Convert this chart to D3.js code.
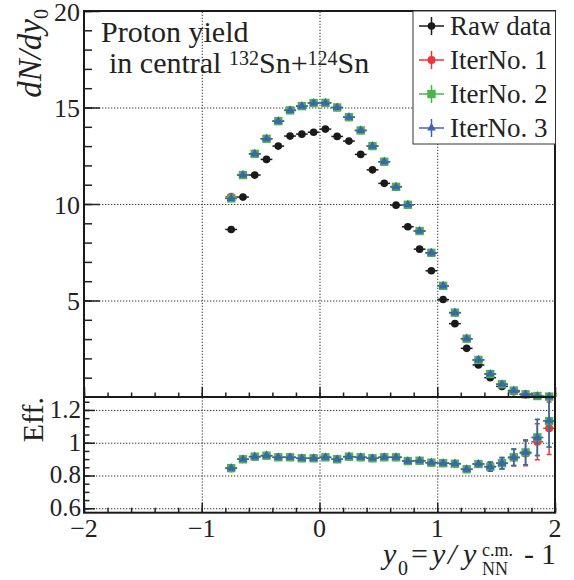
<!DOCTYPE html>
<html>
<head>
<meta charset="utf-8">
<script src="https://cdn.jsdelivr.net/npm/d3@7"></script>
<style>
  body { margin: 0; background: #fff; }
  svg text { fill: #222; }
</style>
</head>
<body>
<script>
// bin centres of y0 (reduced rapidity)
var bins = [-0.75, -0.65, -0.55, -0.45, -0.35, -0.25, -0.15, -0.05, 0.05, 0.15,
            0.25, 0.35, 0.45, 0.55, 0.65, 0.75, 0.85, 0.95, 1.05, 1.15,
            1.25, 1.35, 1.45, 1.55, 1.65, 1.75, 1.85, 1.95];
var xErr = 0.05;

// dN/dy0
var rawData = [8.68, 10.36, 11.5, 12.31, 13.0, 13.52, 13.62, 13.72, 13.88, 13.5,
               13.26, 12.57, 11.77, 11.07, 9.94, 8.82, 7.66, 6.54, 5.05, 3.8,
               2.52, 1.66, 1.0, 0.55, 0.27, 0.12, 0.05, 0.02];
var iter1 = [10.38, 11.52, 12.6, 13.38, 14.3, 14.86, 15.08, 15.24, 15.24, 15.0,
             14.5, 13.81, 13.0, 12.19, 10.9, 9.96, 8.6, 7.47, 5.76, 4.37,
             3.02, 1.92, 1.19, 0.66, 0.33, 0.14, 0.05, 0.02];
var iter2 = [10.29, 11.5, 12.6, 13.38, 14.29, 14.85, 15.07, 15.23, 15.24, 15.0,
             14.5, 13.81, 13.0, 12.19, 10.89, 9.96, 8.6, 7.47, 5.76, 4.37,
             3.02, 1.92, 1.19, 0.66, 0.33, 0.14, 0.05, 0.02];
var iter3 = [10.29, 11.5, 12.6, 13.38, 14.29, 14.85, 15.07, 15.23, 15.24, 15.0,
             14.5, 13.81, 13.0, 12.19, 10.89, 9.96, 8.6, 7.47, 5.76, 4.37,
             3.02, 1.92, 1.19, 0.66, 0.33, 0.14, 0.05, 0.02];

// efficiency (raw / unfolded)
var eff1 = [0.843, 0.899, 0.915, 0.921, 0.911, 0.911, 0.905, 0.905, 0.911, 0.899,
            0.915, 0.911, 0.905, 0.911, 0.911, 0.888, 0.89, 0.878, 0.875, 0.872,
            0.838, 0.87, 0.854, 0.874, 0.908, 0.935, 1.006, 1.088];
var eff2 = [0.845, 0.899, 0.915, 0.921, 0.911, 0.911, 0.905, 0.905, 0.911, 0.899,
            0.915, 0.911, 0.905, 0.911, 0.911, 0.888, 0.89, 0.878, 0.875, 0.872,
            0.838, 0.87, 0.854, 0.875, 0.911, 0.941, 1.033, 1.132];
var eff3 = [0.845, 0.899, 0.915, 0.921, 0.911, 0.911, 0.905, 0.905, 0.911, 0.899,
            0.915, 0.911, 0.905, 0.911, 0.911, 0.888, 0.89, 0.878, 0.875, 0.872,
            0.838, 0.87, 0.854, 0.875, 0.911, 0.941, 1.031, 1.134];
var effErr = [0.008, 0.008, 0.008, 0.008, 0.008, 0.008, 0.008, 0.008, 0.008, 0.008,
              0.008, 0.008, 0.008, 0.008, 0.008, 0.008, 0.01, 0.01, 0.01, 0.012,
              0.015, 0.02, 0.028, 0.035, 0.05, 0.075, 0.11, 0.16];

var legendLabels = ["Raw data", "IterNo. 1", "IterNo. 2", "IterNo. 3"];
var xTicks = [-2, -1, 0, 1, 2];
var yTopTicks = [5, 10, 15, 20];
var yBotTicks = [0.6, 0.8, 1, 1.2];

var colors = { raw: "#1a1a1a", it1: "#ee3636", it2: "#48b548", it3: "#3c64b2" };
var serif = '"Liberation Serif", "Times New Roman", serif';

var svg = d3.select('body').append('svg')
  .attr('width', 574).attr('height', 580)
  .attr('font-family', serif);

var x = d3.scaleLinear().domain([-2, 2]).range([84, 555]);
var yTop = d3.scaleLinear().domain([0, 20]).range([397, 11]);
var yBot = d3.scaleLinear().domain([0.573, 1.279]).range([512.7, 397]);

function grid(g) {
  g.selectAll('line').attr('stroke', '#333').attr('stroke-width', 1)
    .attr('stroke-dasharray', '1.3,1.7');
  g.select('.domain').remove();
  g.selectAll('text').remove();
}

// grids
svg.append('g').attr('transform', 'translate(0,397)')
  .call(d3.axisBottom(x).tickValues([-1, 0, 1]).tickSize(-386)).call(grid);
svg.append('g').attr('transform', 'translate(84,0)')
  .call(d3.axisLeft(yTop).tickValues([5, 10, 15]).tickSize(-471)).call(grid);
svg.append('g').attr('transform', 'translate(0,512.7)')
  .call(d3.axisBottom(x).tickValues([-1, 0, 1]).tickSize(-115.7)).call(grid);
svg.append('g').attr('transform', 'translate(84,0)')
  .call(d3.axisLeft(yBot).tickValues(yBotTicks).tickSize(-471)).call(grid);

// ticks (inward)
function ticks(g) {
  g.select('.domain').remove();
  g.selectAll('line').attr('stroke', '#222').attr('stroke-width', 1.5);
  g.selectAll('text').remove();
}
var xMinor = d3.range(-20, 21, 2).map(function(d){ return d / 10; });
svg.append('g').attr('transform', 'translate(0,397)')
  .call(d3.axisBottom(x).tickValues(xMinor).tickSize(-4.5)).call(ticks);
svg.append('g').attr('transform', 'translate(0,397)')
  .call(d3.axisBottom(x).tickValues(xTicks).tickSize(-10)).call(ticks);
svg.append('g').attr('transform', 'translate(84,0)')
  .call(d3.axisLeft(yTop).tickValues(d3.range(1, 21)).tickSize(-8)).call(ticks);
svg.append('g').attr('transform', 'translate(84,0)')
  .call(d3.axisLeft(yTop).tickValues(yTopTicks).tickSize(-16)).call(ticks);
svg.append('g').attr('transform', 'translate(0,512.7)')
  .call(d3.axisBottom(x).tickValues(xMinor).tickSize(-5)).call(ticks);
svg.append('g').attr('transform', 'translate(0,512.7)')
  .call(d3.axisBottom(x).tickValues(xTicks).tickSize(-10)).call(ticks);
svg.append('g').attr('transform', 'translate(84,0)')
  .call(d3.axisLeft(yBot).tickValues(d3.range(12, 26).map(function(d){ return d / 20; })).tickSize(-5.5)).call(ticks);
svg.append('g').attr('transform', 'translate(84,0)')
  .call(d3.axisLeft(yBot).tickValues(yBotTicks).tickSize(-11)).call(ticks);

// tick labels
svg.append('g').selectAll('text').data(yTopTicks).enter().append('text')
  .attr('x', 80).attr('y', function(d){ return yTop(d) + 9.5; })
  .attr('text-anchor', 'end').attr('font-size', 26)
  .text(function(d){ return d; });
svg.append('g').selectAll('text').data(yBotTicks).enter().append('text')
  .attr('x', 81).attr('y', function(d){ return yBot(d) + 8; })
  .attr('text-anchor', 'end').attr('font-size', 25)
  .text(function(d){ return String(+d.toFixed(1)); });
svg.append('g').selectAll('text').data(xTicks).enter().append('text')
  .attr('x', function(d){ return x(d); }).attr('y', 537)
  .attr('text-anchor', 'middle').attr('font-size', 26)
  .text(function(d){ return d3.format('d')(d); });

// draw a series with error bars and markers
function series(yScale, vals, errs, color, shape) {
  var g = svg.append('g');
  var pts = bins.map(function(b, i){ return { x: b, y: vals[i], e: errs ? errs[i] : 0 }; });
  g.selectAll('line.h').data(pts).enter().append('line')
    .attr('x1', function(d){ return x(d.x - xErr); })
    .attr('x2', function(d){ return x(d.x + xErr); })
    .attr('y1', function(d){ return yScale(d.y); })
    .attr('y2', function(d){ return yScale(d.y); })
    .attr('stroke', color).attr('stroke-width', 1.5);
  var withErr = pts.filter(function(d){ return d.e > 0; });
  g.selectAll('line.v').data(withErr).enter().append('line')
    .attr('x1', function(d){ return x(d.x); })
    .attr('x2', function(d){ return x(d.x); })
    .attr('y1', function(d){ return Math.max(398, yScale(d.y - d.e)); })
    .attr('y2', function(d){ return Math.max(398, yScale(d.y + d.e)); })
    .attr('stroke', color).attr('stroke-width', 1.5);
  // small caps at the ends of the vertical error bars
  g.selectAll('path.cap').data(withErr.filter(function(d){ return d.e > 0.02; })).enter().append('path')
    .attr('d', function(d){
      var cx = x(d.x), lo = yScale(d.y - d.e), hi = Math.max(398, yScale(d.y + d.e));
      return 'M' + (cx - 2.5) + ',' + lo + 'H' + (cx + 2.5) + 'M' + (cx - 2.5) + ',' + hi + 'H' + (cx + 2.5);
    })
    .attr('stroke', color).attr('stroke-width', 1.5).attr('fill', 'none');
  g.selectAll('path.m').data(pts).enter().append('path')
    .attr('transform', function(d){ return 'translate(' + x(d.x) + ',' + yScale(d.y) + ')'; })
    .attr('d', d3.symbol().type(shape.type).size(shape.size))
    .attr('fill', color);
}

var circle = { type: d3.symbolCircle, size: 46 };
var circleRed = { type: d3.symbolCircle, size: 50 };
var square = { type: d3.symbolSquare, size: 70 };
var tri = { type: d3.symbolTriangle, size: 34 };

series(yTop, rawData, null, colors.raw, circle);
series(yTop, iter1, null, colors.it1, circleRed);
series(yTop, iter2, null, colors.it2, square);
series(yTop, iter3, null, colors.it3, tri);

series(yBot, eff1, effErr, colors.it1, circleRed);
series(yBot, eff2, effErr, colors.it2, square);
series(yBot, eff3, effErr, colors.it3, tri);

// frames
svg.append('rect').attr('x', 84).attr('y', 11).attr('width', 471).attr('height', 386)
  .attr('fill', 'none').attr('stroke', '#1a1a1a').attr('stroke-width', 2);
svg.append('rect').attr('x', 84).attr('y', 397).attr('width', 471).attr('height', 115.7)
  .attr('fill', 'none').attr('stroke', '#1a1a1a').attr('stroke-width', 2);

// legend
var legendColors = [colors.raw, colors.it1, colors.it2, colors.it3];
var legendShapes = [circle, circleRed, square, tri];
svg.append('rect').attr('x', 413).attr('y', 11).attr('width', 142.5).attr('height', 133)
  .attr('fill', '#fff').attr('stroke', '#333').attr('stroke-width', 1);
var leg = svg.append('g').selectAll('g').data(legendLabels).enter().append('g')
  .attr('transform', function(d, i){ return 'translate(0,' + (26 + i * 34) + ')'; });
leg.append('line').attr('x1', 419).attr('x2', 444).attr('y1', 0).attr('y2', 0)
  .attr('stroke', function(d, i){ return legendColors[i]; }).attr('stroke-width', 1.5);
leg.append('line').attr('x1', 431.5).attr('x2', 431.5).attr('y1', -9).attr('y2', 9)
  .attr('stroke', function(d, i){ return legendColors[i]; }).attr('stroke-width', 1.5);
leg.append('path').attr('transform', 'translate(431.5,0)')
  .attr('d', function(d, i){ return d3.symbol().type(legendShapes[i].type).size(legendShapes[i].size)(); })
  .attr('fill', function(d, i){ return legendColors[i]; });
leg.append('text').attr('x', 450).attr('y', 9).attr('font-size', 27)
  .text(function(d){ return d; });

// annotation
svg.append('text').attr('x', 101).attr('y', 42).attr('font-size', 30).text('Proton yield');
var t2 = svg.append('text').attr('x', 109).attr('y', 73).attr('font-size', 30);
t2.append('tspan').text('in central ');
t2.append('tspan').attr('font-size', 20).attr('dy', -8).text('132');
t2.append('tspan').attr('dy', 8).text('Sn+');
t2.append('tspan').attr('font-size', 20).attr('dy', -8).text('124');
t2.append('tspan').attr('dy', 8).text('Sn');

// axis titles
var yt = svg.append('text').attr('transform', 'translate(41,9) rotate(-90)')
  .attr('text-anchor', 'end').attr('font-size', 33);
yt.append('tspan').attr('font-style', 'italic').text('dN/dy');
yt.append('tspan').attr('font-size', 20).attr('dy', 7).text('0');

svg.append('text').attr('transform', 'translate(43,397) rotate(-90)')
  .attr('text-anchor', 'end').attr('font-size', 30).text('Eff.');

// x title: y0 = y/y^{c.m.}_{NN} - 1, pieces placed along the baseline
function piece(str, px, size, dy, italic) {
  var t = svg.append('text').attr('x', px).attr('y', 564 + dy)
    .attr('font-size', size).text(str);
  if (italic) t.attr('font-style', 'italic');
}
piece('y', 383, 30, 0, true);
piece('0', 398, 20, 11, false);
piece('=', 411, 30, 0, false);
piece('y', 432, 30, 0, true);
piece('/', 448, 30, 0, true);
piece('y', 463, 30, 0, true);
piece('c.m.', 482, 18, -8, false);
piece('NN', 482, 18, 11, false);
piece('-', 524, 30, 0, false);
piece('1', 541, 30, 0, false);
</script>
</body>
</html>
